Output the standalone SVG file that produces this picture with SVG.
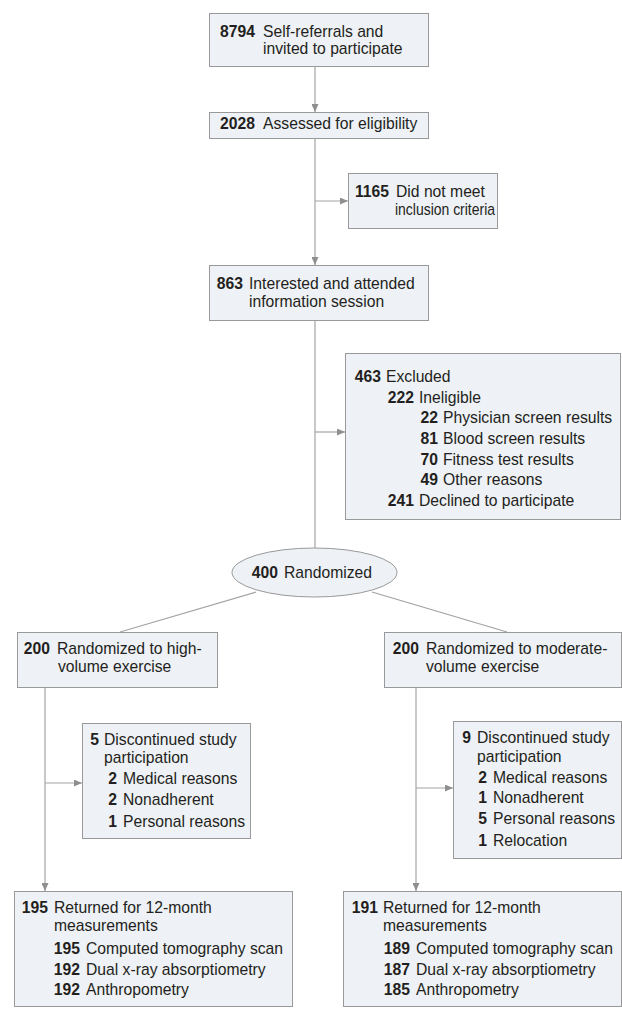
<svg xmlns="http://www.w3.org/2000/svg" width="622" height="1021" viewBox="0 0 622 1021">
<style>
.bx{fill:#eef1f5;stroke:#999999;stroke-width:1}
text{font-family:"Liberation Sans",Arial,sans-serif;font-size:15.7px;fill:#231f20}
.n{font-weight:bold}
.e{text-anchor:end}
.ln{fill:none;stroke:#a3a3a3;stroke-width:1.2}
</style>
<defs>
<marker id="ah" markerUnits="userSpaceOnUse" markerWidth="9" markerHeight="7" refX="8" refY="3.5" orient="auto">
<path d="M0,0 L8,3.5 L0,7 z" fill="#8f8f8f"/>
</marker>
</defs>
<rect width="622" height="1021" fill="#ffffff"/>
<g id="connectors">
<line class="ln" x1="315" y1="66" x2="315" y2="112" marker-end="url(#ah)"/>
<line class="ln" x1="315" y1="138" x2="315" y2="265" marker-end="url(#ah)"/>
<line class="ln" x1="315" y1="201" x2="348" y2="201" marker-end="url(#ah)"/>
<line class="ln" x1="315" y1="320" x2="315" y2="548"/>
<line class="ln" x1="315" y1="432" x2="345" y2="432" marker-end="url(#ah)"/>
<line class="ln" x1="256" y1="592" x2="120" y2="632"/>
<line class="ln" x1="372" y1="592" x2="507" y2="632"/>
<line class="ln" x1="45" y1="687" x2="45" y2="891" marker-end="url(#ah)"/>
<line class="ln" x1="45" y1="783" x2="82" y2="783" marker-end="url(#ah)"/>
<line class="ln" x1="416" y1="687" x2="416" y2="891" marker-end="url(#ah)"/>
<line class="ln" x1="416" y1="788" x2="453" y2="788" marker-end="url(#ah)"/>
</g>
<g id="n8794">
<rect class="bx" x="209.5" y="13.5" width="219" height="53"/>
<text class="n e" x="255" y="37">8794</text>
<text x="263" y="37">Self-referrals and</text>
<text x="263" y="54">invited to participate</text>
</g>
<g id="n2028">
<rect class="bx" x="209.5" y="112.5" width="219" height="26"/>
<text class="n e" x="255" y="129">2028</text>
<text x="263" y="129">Assessed for eligibility</text>
</g>
<g id="n1165">
<rect class="bx" x="348.5" y="173.5" width="149" height="55"/>
<text class="n e" x="389" y="197">1165</text>
<text x="396" y="197">Did not meet</text>
<text x="395" y="215" textLength="100" lengthAdjust="spacingAndGlyphs">inclusion criteria</text>
</g>
<g id="n863">
<rect class="bx" x="209.5" y="265.5" width="219" height="55"/>
<text class="n e" x="243" y="289">863</text>
<text x="249" y="289">Interested and attended</text>
<text x="249" y="307">information session</text>
</g>
<g id="n463">
<rect class="bx" x="345.5" y="353.5" width="275" height="166"/>
<text class="n e" x="381" y="382">463</text><text x="386" y="382">Excluded</text>
<text class="n e" x="414" y="402.7">222</text><text x="419" y="402.7">Ineligible</text>
<text class="n e" x="438" y="423.3">22</text><text x="443" y="423.3">Physician screen results</text>
<text class="n e" x="438" y="444">81</text><text x="443" y="444">Blood screen results</text>
<text class="n e" x="438" y="464.7">70</text><text x="443" y="464.7">Fitness test results</text>
<text class="n e" x="438" y="485.3">49</text><text x="443" y="485.3">Other reasons</text>
<text class="n e" x="414" y="506">241</text><text x="419" y="506">Declined to participate</text>
</g>
<g id="n400">
<ellipse cx="314.5" cy="572.5" rx="82.5" ry="24.5" fill="#eef1f5" stroke="#999999" stroke-width="1"/>
<text class="n e" x="278" y="578">400</text>
<text x="284" y="578">Randomized</text>
</g>
<g id="nHigh">
<rect class="bx" x="17.5" y="632.5" width="200" height="55"/>
<text class="n e" x="50" y="654">200</text>
<text x="57" y="654">Randomized to high-</text>
<text x="58" y="672">volume exercise</text>
</g>
<g id="nMod">
<rect class="bx" x="384.5" y="632.5" width="237" height="55"/>
<text class="n e" x="419" y="654">200</text>
<text x="426" y="654">Randomized to moderate-</text>
<text x="426" y="672">volume exercise</text>
</g>
<g id="nDiscHigh">
<rect class="bx" x="82.5" y="723.5" width="168" height="115"/>
<text class="n e" x="99" y="745">5</text><text x="104" y="745">Discontinued study</text>
<text x="104" y="763">participation</text>
<text class="n e" x="117" y="784">2</text><text x="123" y="784">Medical reasons</text>
<text class="n e" x="117" y="805">2</text><text x="123" y="805">Nonadherent</text>
<text class="n e" x="117" y="827">1</text><text x="123" y="827">Personal reasons</text>
</g>
<g id="nDiscMod">
<rect class="bx" x="453.5" y="721.5" width="168" height="137"/>
<text class="n e" x="471" y="743">9</text><text x="477" y="743">Discontinued study</text>
<text x="477" y="762">participation</text>
<text class="n e" x="487" y="783">2</text><text x="493" y="783">Medical reasons</text>
<text class="n e" x="487" y="803">1</text><text x="493" y="803">Nonadherent</text>
<text class="n e" x="487" y="824">5</text><text x="493" y="824">Personal reasons</text>
<text class="n e" x="487" y="846">1</text><text x="493" y="846">Relocation</text>
</g>
<g id="nRetHigh">
<rect class="bx" x="14.5" y="891.5" width="278" height="115"/>
<text class="n e" x="48" y="913">195</text><text x="54" y="913">Returned for 12-month</text>
<text x="54" y="931">measurements</text>
<text class="n e" x="80" y="954">195</text><text x="86" y="954">Computed tomography scan</text>
<text class="n e" x="80" y="975">192</text><text x="86" y="975">Dual x-ray absorptiometry</text>
<text class="n e" x="80" y="995">192</text><text x="86" y="995">Anthropometry</text>
</g>
<g id="nRetMod">
<rect class="bx" x="343.5" y="891.5" width="278" height="115"/>
<text class="n e" x="378" y="913">191</text><text x="383" y="913">Returned for 12-month</text>
<text x="383" y="931">measurements</text>
<text class="n e" x="410" y="954">189</text><text x="416" y="954">Computed tomography scan</text>
<text class="n e" x="410" y="975">187</text><text x="416" y="975">Dual x-ray absorptiometry</text>
<text class="n e" x="410" y="995">185</text><text x="416" y="995">Anthropometry</text>
</g>
</svg>
